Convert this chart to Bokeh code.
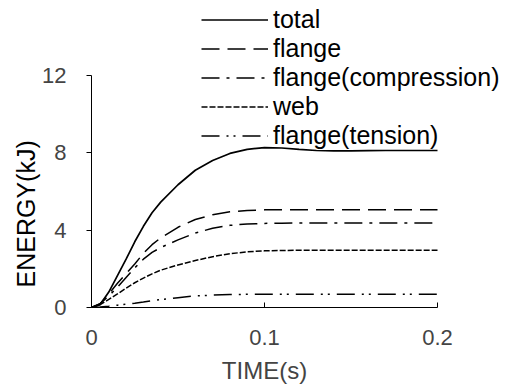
from bokeh.plotting import figure
from bokeh.models import Range1d, FixedTicker, Legend, LegendItem, Title, LinearAxis
from bokeh.embed import file_html
from bokeh.resources import INLINE

time_s = [0, .005, .01, .015, .02, .025, .03, .035, .04, .05, .06, .07, .08, .09, .1,
          .11, .12, .13, .14, .15, .16, .17, .18, .19, .2]
total = [0, 0.15, 0.8, 1.65, 2.5, 3.4, 4.2, 4.9, 5.45, 6.35, 7.1, 7.6, 7.97, 8.18, 8.27,
         8.25, 8.18, 8.12, 8.1, 8.1, 8.11, 8.12, 8.12, 8.12, 8.12]
flange = [0, 0.2, 0.7, 1.25, 1.75, 2.25, 2.8, 3.25, 3.6, 4.15, 4.55, 4.8, 4.95, 5.02, 5.05,
          5.06, 5.06, 5.06, 5.06, 5.06, 5.06, 5.06, 5.06, 5.06, 5.06]
flange_comp = [0, 0.2, 0.6, 1.05, 1.55, 2.05, 2.5, 2.85, 3.1, 3.5, 3.85, 4.1, 4.25, 4.32, 4.35,
               4.36, 4.37, 4.37, 4.37, 4.37, 4.37, 4.37, 4.37, 4.37, 4.37]
web = [0, 0.15, 0.42, 0.7, 1.0, 1.28, 1.52, 1.74, 1.93, 2.2, 2.43, 2.63, 2.78, 2.88, 2.93,
       2.95, 2.96, 2.96, 2.96, 2.96, 2.96, 2.96, 2.96, 2.96, 2.96]
flange_tens = [0, 0.03, 0.07, 0.12, 0.17, 0.22, 0.28, 0.35, 0.41, 0.51, 0.6, 0.64, 0.67, 0.68, 0.69,
               0.69, 0.69, 0.69, 0.69, 0.69, 0.69, 0.69, 0.69, 0.69, 0.69]

x_ticks = [0, 0.1, 0.2]
y_ticks = [0, 4, 8, 12]
labels = ["total", "flange", "flange(compression)", "web", "flange(tension)"]
x_title = "TIME(s)"
y_title = "ENERGY(kJ)"
x_title_at = 0.1

FONT = "Liberation Sans"

# frame: x 91..512 px (0..0.2 spans 346 px), y 0..307 px (0..12 spans 232 px)
p = figure(width=512, height=392, output_backend="svg", toolbar_location=None,
           x_range=Range1d(0, 0.2 * 421 / 346), y_range=Range1d(0, 12 * 307 / 232),
           min_border_left=91, min_border_right=0, min_border_top=0, min_border_bottom=85)
p.outline_line_color = None
p.grid.visible = False
p.background_fill_color = "white"

series = [
    (total, None, 1.7),
    (flange, "18 8", 1.5),
    (flange_comp, "18 7 3 7", 1.5),
    (web, "6 2", 1.5),
    (flange_tens, "18 7 2 5 2 7", 1.5),
]
items = []
for (vals, dash, w), lab in zip(series, labels):
    kw = dict(line_color="black", line_width=w)
    if dash:
        kw["line_dash"] = dash
    r = p.line(time_s, vals, **kw)
    items.append(LegendItem(label=lab, renderers=[r]))

legend = Legend(items=items, location=(110, 157), padding=0, margin=0, spacing=-2,
                glyph_width=67, glyph_height=25, label_height=25, label_standoff=5,
                border_line_color=None, background_fill_alpha=0,
                label_text_font=FONT, label_text_font_size="25px", label_text_color="black")
p.add_layout(legend)

xa = p.xaxis[0]
xa.ticker = FixedTicker(ticks=x_ticks)
xa.bounds = (0, 0.2)
xa.major_tick_in = 5
xa.major_tick_out = 0
xa.minor_tick_line_color = None
xa.major_label_standoff = 22
xa.major_label_text_font = FONT
xa.major_label_text_font_size = "22px"
xa.axis_line_color = "black"

# second (label-only) axis below, carrying the x title centred under x = 0.1
xt = LinearAxis(ticker=FixedTicker(ticks=[x_title_at]),
                major_label_overrides={x_title_at: x_title})
xt.axis_line_color = None
xt.major_tick_line_color = None
xt.minor_tick_line_color = None
xt.major_tick_in = 0
xt.major_tick_out = 0
xt.major_label_standoff = 9
xt.major_label_text_font = FONT
xt.major_label_text_font_size = "24px"
p.add_layout(xt, "below")

ya = p.yaxis[0]
ya.ticker = FixedTicker(ticks=y_ticks)
ya.bounds = (0, 12)
ya.major_tick_in = 0
ya.major_tick_out = 5
ya.minor_tick_line_color = None
ya.major_label_standoff = 20
ya.major_label_text_font = FONT
ya.major_label_text_font_size = "22px"

p.add_layout(Title(text=y_title, align="left", offset=20, text_font=FONT,
                   text_font_size="25px", text_font_style="normal",
                   text_color="black", standoff=0), "left")

open("out.html", "w").write(file_html(p, INLINE))
